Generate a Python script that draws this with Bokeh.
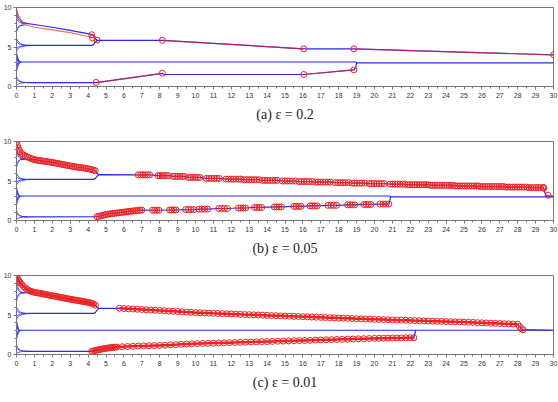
from bokeh.plotting import figure
from bokeh.layouts import column
from bokeh.models import Range1d, FixedTicker
from bokeh.embed import file_html
from bokeh.resources import INLINE

# ---------------- data ----------------
captions = ["(a) \u03b5 = 0.2", "(b) \u03b5 = 0.05", "(c) \u03b5 = 0.01"]
x_ticks = list(range(0, 31))
y_ticks = [0, 5, 10]
y_minor = [1, 2, 3, 4, 6, 7, 8, 9]

# early-time fans (start value at t=0, cluster reached, time reached)
a_fan_start = [9.6, 9.1, 8.6, 7.3, 6.9, 6.1, 5.7, 4.8, 4.5, 4.3, 4.1, 3.9, 3.6, 3.4, 2.7, 2.5, 2.3, 1.9, 1.3, 0.9, 0.15]
a_fan_end_y = [8.0, 8.0, 7.95, 7.8, 7.8, 5.2, 5.2, 5.2, 5.2, 3.1, 3.1, 3.1, 3.1, 3.1, 3.1, 3.1, 3.1, 3.1, 0.5, 0.5, 0.5]
a_fan_end_x = [0.6, 0.5, 0.5, 0.5, 0.4, 0.7, 0.6, 0.7, 0.9, 0.25, 0.15, 0.2, 0.15, 0.1, 0.15, 0.1, 0.2, 0.3, 0.5, 0.6, 0.7]

b_fan_start = [9.2, 8.6, 7.2, 6.7, 6.0, 5.6, 4.8, 4.5, 4.3, 4.0, 3.8, 3.5, 2.8, 2.5, 2.2, 1.9, 1.2, 0.9, 0.1]
b_fan_end_y = [7.75, 7.75, 7.75, 7.75, 5.2, 5.2, 5.2, 5.2, 3.1, 3.1, 3.1, 3.1, 3.1, 3.1, 3.1, 3.1, 0.46, 0.46, 0.46]
b_fan_end_x = [0.4, 0.4, 0.35, 0.3, 0.6, 0.5, 0.6, 0.9, 0.2, 0.15, 0.1, 0.15, 0.1, 0.2, 0.15, 0.3, 0.5, 0.6, 0.6]

c_fan_start = [9.2, 8.6, 7.2, 6.7, 6.0, 5.6, 4.8, 4.5, 4.3, 4.0, 3.8, 3.5, 2.8, 2.5, 2.2, 1.9, 1.2, 0.9, 0.1]
c_fan_end_y = [7.8, 7.8, 7.8, 7.8, 5.2, 5.2, 5.2, 5.2, 3.07, 3.07, 3.07, 3.07, 3.07, 3.07, 3.07, 3.07, 0.4, 0.4, 0.4]
c_fan_end_x = [0.45, 0.4, 0.35, 0.3, 0.6, 0.5, 0.6, 0.9, 0.2, 0.15, 0.1, 0.15, 0.1, 0.2, 0.15, 0.3, 0.5, 0.6, 0.6]

# ---- panel (a) ----
a_blue_xs = [[0.5, 1.0, 2.0, 3.0, 4.2, 4.3, 4.35, 4.5],
             [0.6, 4.2, 4.3, 4.4, 4.5, 8.15, 16.05, 18.85, 30.0],
             [0.2, 18.95, 19.0, 30.0],
             [0.6, 4.45, 8.15, 8.25, 16.05, 18.85, 18.95, 19.0]]
a_blue_ys = [[8.0, 7.85, 7.5, 7.1, 6.6, 6.5, 6.1, 5.85],
             [5.2, 5.2, 5.3, 5.6, 5.85, 5.85, 4.77, 4.77, 4.0],
             [3.1, 3.1, 3.0, 3.0],
             [0.5, 0.5, 1.65, 1.52, 1.52, 2.1, 2.4, 3.0]]
a_red_xs = [[0.0, 0.1, 0.25, 0.4, 0.6, 1.0, 2.0, 3.0, 4.0, 4.25],
            [8.15, 16.05], [18.85, 30.0], [4.45, 8.15], [16.05, 18.85]]
a_red_ys = [[9.9, 9.0, 8.4, 8.0, 7.75, 7.5, 7.17, 6.82, 6.33, 6.15],
            [5.85, 4.77], [4.77, 4.0], [0.5, 1.65], [1.52, 2.1]]
a_circ_x = [4.2, 4.25, 4.5, 8.15, 16.05, 18.85, 30.0, 4.45, 8.15, 16.05, 18.85]
a_circ_y = [6.55, 6.15, 5.88, 5.85, 4.77, 4.77, 4.02, 0.52, 1.68, 1.52, 2.1]

# ---- panel (b) ----
b_top_x = [0.0, 0.05, 0.1, 0.15, 0.2, 0.3, 0.4, 0.5, 0.6, 0.7, 0.8, 0.9, 1.0,
           1.1, 1.2, 1.3, 1.4, 1.5, 1.6, 1.7, 1.8, 1.9, 2.0,
           2.1, 2.2, 2.3, 2.4, 2.5, 2.6, 2.7, 2.8, 2.9, 3.0,
           3.1, 3.2, 3.3, 3.4, 3.5, 3.6, 3.7, 3.8, 3.9, 4.0,
           4.1, 4.2, 4.3, 4.4]
b_top_y = [9.9, 9.5, 9.15, 8.9, 8.7, 8.45, 8.28, 8.15, 8.05, 7.95, 7.86, 7.78, 7.7,
           7.66, 7.62, 7.59, 7.55, 7.52, 7.48, 7.45, 7.42, 7.38, 7.35,
           7.31, 7.26, 7.22, 7.17, 7.13, 7.08, 7.04, 6.99, 6.95, 6.9,
           6.87, 6.83, 6.8, 6.76, 6.73, 6.69, 6.66, 6.62, 6.59, 6.55,
           6.5, 6.44, 6.37, 6.3]
b_low_x = [4.5, 4.6, 4.7, 4.8, 4.9, 5.0, 5.1, 5.2, 5.3, 5.4, 5.5, 5.6, 5.7,
           5.8, 5.9, 6.0, 6.1, 6.2, 6.3, 6.4, 6.5, 6.6, 6.7, 6.8, 6.9, 7.0]
b_low_y = [0.48, 0.53, 0.58, 0.64, 0.7, 0.76, 0.8, 0.83, 0.86, 0.89, 0.92, 0.95, 0.98,
           1.01, 1.04, 1.06, 1.09, 1.12, 1.15, 1.18, 1.2, 1.23, 1.25, 1.28, 1.3, 1.32]
b_up_clump_x = [[6.8, 6.93, 7.06, 7.19, 7.32, 7.44],
                [7.9, 8.02, 8.14, 8.26, 8.38, 8.5],
                [8.75, 8.88, 9.01, 9.14, 9.27, 9.39],
                [9.6, 9.73, 9.86, 9.99, 10.12, 10.25],
                [10.6, 10.75, 10.9, 11.05, 11.2, 11.33],
                [11.7, 11.84, 11.98, 12.12, 12.26, 12.4, 12.53],
                [12.72, 12.86, 13.0, 13.14, 13.28, 13.42, 13.56],
                [13.74, 13.88, 14.02, 14.16, 14.3, 14.44, 14.57],
                [14.85, 14.99, 15.13, 15.27, 15.41, 15.59],
                [15.78, 15.92, 16.06, 16.2, 16.34, 16.52],
                [16.7, 16.84, 16.98, 17.12, 17.26, 17.4, 17.53],
                [17.81, 17.95, 18.09, 18.23, 18.37, 18.56],
                [18.74, 18.88, 19.02, 19.16, 19.3, 19.48],
                [19.7, 19.84, 19.98, 20.12, 20.26, 20.4, 20.55],
                [20.87, 21.01, 21.15, 21.29, 21.43, 21.57, 21.7],
                [21.85, 21.98, 22.11, 22.24, 22.37, 22.5, 22.63, 22.76, 22.89, 23.0],
                [23.12, 23.25, 23.38, 23.51, 23.64, 23.77, 23.9, 24.03, 24.16, 24.29, 24.4],
                [24.52, 24.65, 24.78, 24.91, 25.04, 25.17, 25.3, 25.43, 25.56, 25.69, 25.8],
                [25.92, 26.05, 26.18, 26.31, 26.44, 26.57, 26.7, 26.83, 26.96, 27.09, 27.2],
                [27.32, 27.45, 27.58, 27.71, 27.84, 27.97, 28.1, 28.23, 28.36, 28.5],
                [28.62, 28.75, 28.88, 29.01, 29.14, 29.27, 29.4, 29.45]]
b_up_clump_y = [5.78, 5.68, 5.58, 5.45, 5.33, 5.24, 5.16, 5.08, 5.0, 4.93, 4.86,
                4.79, 4.73, 4.67, 4.6, 4.53, 4.45, 4.37, 4.3, 4.23, 4.16]
b_low_clump_x = [[7.6, 7.72, 7.84, 7.96], [8.55, 8.67, 8.79, 8.91], [9.45, 9.6, 9.75, 9.9],
                 [10.2, 10.36, 10.52, 10.68], [11.3, 11.46, 11.62, 11.78], [12.4, 12.53, 12.66, 12.8],
                 [13.3, 13.43, 13.56, 13.7], [14.4, 14.53, 14.66, 14.8], [15.5, 15.63, 15.76, 15.9],
                 [16.4, 16.53, 16.66, 16.8], [17.4, 17.56, 17.72, 17.88], [18.5, 18.63, 18.76, 18.9],
                 [19.4, 19.53, 19.66, 19.8], [20.3, 20.47, 20.64, 20.8]]
b_low_clump_y = [1.3, 1.33, 1.38, 1.44, 1.52, 1.58, 1.65, 1.72, 1.79, 1.85, 1.92, 1.98, 2.03, 2.08]
b_extra_circ_x = [29.45, 29.7]
b_extra_circ_y = [4.1, 3.2]

# ---- panel (c) ----
c_top_x = b_top_x
c_top_y = [9.9, 9.6, 9.4, 9.25, 9.1, 8.85, 8.6, 8.4, 8.25, 8.1, 8.0, 7.93, 7.87,
           7.83, 7.79, 7.74, 7.7, 7.66, 7.61, 7.57, 7.53, 7.48, 7.44,
           7.4, 7.35, 7.31, 7.26, 7.22, 7.18, 7.13, 7.09, 7.04, 7.0,
           6.96, 6.92, 6.88, 6.84, 6.8, 6.76, 6.72, 6.68, 6.64, 6.6,
           6.55, 6.48, 6.38, 6.25]
c_up_x = [5.75, 6.0, 6.25, 6.5, 6.75, 7.0, 7.25, 7.5, 7.75, 8.0, 8.25, 8.5, 8.75, 9.0, 9.25, 9.5, 9.75, 10.0,
          10.25, 10.5, 10.75, 11.0, 11.25, 11.5, 11.75, 12.0, 12.25, 12.5, 12.75, 13.0, 13.25, 13.5, 13.75, 14.0, 14.25, 14.5, 14.75, 15.0,
          15.25, 15.5, 15.75, 16.0, 16.25, 16.5, 16.75, 17.0, 17.25, 17.5, 17.75, 18.0, 18.25, 18.5, 18.75, 19.0, 19.25, 19.5, 19.75, 20.0,
          20.25, 20.5, 20.75, 21.0, 21.25, 21.5, 21.75, 22.0, 22.25, 22.5, 22.75, 23.0, 23.25, 23.5, 23.75, 24.0, 24.25, 24.5, 24.75, 25.0,
          25.25, 25.5, 25.75, 26.0, 26.25, 26.5, 26.75, 27.0, 27.25, 27.5, 27.75, 28.0]
c_up_y = [5.85, 5.82, 5.79, 5.76, 5.73, 5.70, 5.67, 5.63, 5.6, 5.57, 5.54, 5.5, 5.47, 5.44, 5.41, 5.37, 5.34, 5.3,
          5.28, 5.26, 5.24, 5.21, 5.19, 5.17, 5.15, 5.13, 5.11, 5.08, 5.06, 5.04, 5.02, 5.0, 4.98, 4.95, 4.93, 4.91, 4.89, 4.87,
          4.85, 4.83, 4.81, 4.79, 4.77, 4.74, 4.72, 4.7, 4.68, 4.66, 4.64, 4.62, 4.6, 4.58, 4.56, 4.53, 4.51, 4.49, 4.47, 4.45,
          4.43, 4.42, 4.4, 4.38, 4.36, 4.35, 4.33, 4.31, 4.29, 4.28, 4.26, 4.24, 4.22, 4.21, 4.19, 4.17, 4.15, 4.14, 4.12, 4.1,
          4.08, 4.06, 4.03, 4.01, 3.99, 3.96, 3.94, 3.92, 3.9, 3.87, 3.85, 3.83]
c_drop_x = [28.1, 28.2, 28.3]
c_drop_y = [3.55, 3.25, 3.15]
c_low_x = [4.2, 4.3, 4.4, 4.5, 4.6, 4.7, 4.8, 4.9, 5.0, 5.1, 5.2, 5.3, 5.4, 5.5, 5.6,
           5.9, 6.2, 6.5, 6.8, 7.1, 7.4, 7.7, 8.0, 8.3, 8.6, 8.9, 9.2, 9.5, 9.8, 10.1,
           10.4, 10.7, 11.0, 11.3, 11.6, 11.9, 12.2, 12.5, 12.8, 13.1, 13.4, 13.7, 14.0, 14.3, 14.6, 14.9,
           15.2, 15.5, 15.8, 16.1, 16.4, 16.7, 17.0, 17.3, 17.6, 17.9, 18.2, 18.5, 18.8, 19.1, 19.4, 19.7, 20.0,
           20.25, 20.5, 20.75, 21.0, 21.25, 21.5, 21.75, 22.0, 22.2]
c_low_y = [0.4, 0.45, 0.5, 0.55, 0.6, 0.65, 0.7, 0.74, 0.78, 0.82, 0.85, 0.88, 0.9, 0.92, 0.94,
           0.98, 1.01, 1.04, 1.07, 1.09, 1.11, 1.13, 1.15, 1.18, 1.21, 1.25, 1.29, 1.32, 1.35, 1.38,
           1.40, 1.42, 1.44, 1.46, 1.48, 1.50, 1.52, 1.54, 1.56, 1.58, 1.60, 1.62, 1.64, 1.66, 1.68, 1.70,
           1.72, 1.74, 1.76, 1.78, 1.80, 1.82, 1.84, 1.86, 1.88, 1.9, 1.92, 1.94, 1.96, 1.98, 2.0, 2.02, 2.04,
           2.05, 2.06, 2.07, 2.08, 2.09, 2.10, 2.11, 2.12, 2.12]

# ---------------- styling ----------------
BLUE = "#2a2ae6"
RED = "#ee2222"
AXIS_C = "#777777"
LABEL_FONT = "Liberation Sans"
CIRC_SIZE = 6


def base_figure(caption):
    p = figure(width=558, height=134, x_range=Range1d(0, 30), y_range=Range1d(0, 10),
               output_backend="svg", toolbar_location=None,
               min_border_left=13, min_border_right=5, min_border_top=7, min_border_bottom=48,
               title=caption, title_location="below")
    p.title.align = "center"
    p.title.text_font = "Liberation Serif"
    p.title.text_font_style = "normal"
    p.title.text_font_size = "14px"
    p.title.text_color = "#222222"
    p.title.standoff = 8
    p.xgrid.visible = False
    p.ygrid.visible = False
    p.outline_line_color = AXIS_C
    p.background_fill_color = "white"
    p.border_fill_color = "white"
    p.xaxis.ticker = FixedTicker(ticks=x_ticks, minor_ticks=[t + 0.5 for t in x_ticks[:-1]])
    p.yaxis.ticker = FixedTicker(ticks=y_ticks, minor_ticks=y_minor)
    for ax in (p.xaxis, p.yaxis):
        ax.axis_line_color = AXIS_C
        ax.major_tick_line_color = AXIS_C
        ax.minor_tick_line_color = AXIS_C
        ax.major_tick_in = 0
        ax.major_tick_out = 3
        ax.minor_tick_in = 0
        ax.minor_tick_out = 2
        ax.major_label_text_font = LABEL_FONT
        ax.major_label_text_font_size = "7px"
        ax.major_label_text_color = "#333333"
        ax.major_label_standoff = 3
    p.yaxis.major_label_standoff = 2
    return p


def draw_fans(p, starts, ends_y, ends_x):
    p.quadratic(x0=[0.0] * len(starts), y0=starts, x1=ends_x, y1=ends_y,
                cx=[0.1] * len(starts), cy=ends_y, line_color=BLUE, line_width=1, line_alpha=0.75)


def circles(p, xs, ys):
    p.scatter(xs, ys, marker="circle", size=CIRC_SIZE, line_color=RED, line_width=1,
              fill_color="white", fill_alpha=0.0)


# ---- panel a ----
pa = base_figure(captions[0])
draw_fans(pa, a_fan_start, a_fan_end_y, a_fan_end_x)
pa.multi_line(a_blue_xs, a_blue_ys, line_color=BLUE, line_width=1.2)
pa.multi_line(a_red_xs, a_red_ys, line_color=RED, line_width=1.2, line_alpha=0.65)
circles(pa, a_circ_x, a_circ_y)

# ---- panel b ----
pb = base_figure(captions[1])
draw_fans(pb, b_fan_start, b_fan_end_y, b_fan_end_x)
mid_x = [0.6, 4.3, 4.4, 4.5, 4.6]
mid_y = [5.2, 5.2, 5.3, 5.6, 5.8]
for cx_, cy_ in zip(b_up_clump_x, b_up_clump_y):
    mid_x += [cx_[0], cx_[-1]]
    mid_y += [cy_, cy_]
mid_x += [29.5, 29.6, 30.0]
mid_y += [3.6, 3.15, 3.05]
low_x = [0.5] + b_low_x
low_y = [0.46] + b_low_y
for cx_, cy_ in zip(b_low_clump_x, b_low_clump_y):
    low_x += [cx_[0], cx_[-1]]
    low_y += [cy_, cy_]
low_x += [20.85, 20.9]
low_y += [2.5, 3.0]
pb.multi_line([[0.3, 1.0, 2.0, 3.0, 4.0, 4.4, 4.5, 4.6], mid_x, [0.2, 20.85, 20.9, 30.0], low_x],
              [[7.75, 7.7, 7.35, 6.9, 6.55, 6.3, 6.0, 5.8], mid_y, [3.1, 3.1, 3.0, 3.0], low_y],
              line_color=BLUE, line_width=1.2)
pb.line(b_top_x, b_top_y, line_color=RED, line_width=1)
pb.line(b_low_x, b_low_y, line_color=RED, line_width=1)
circles(pb, b_top_x, b_top_y)
circles(pb, b_low_x, b_low_y)
for cx_, cy_ in zip(b_up_clump_x, b_up_clump_y):
    pb.line(cx_, [cy_] * len(cx_), line_color=RED, line_width=1)
    circles(pb, cx_, [cy_] * len(cx_))
for cx_, cy_ in zip(b_low_clump_x, b_low_clump_y):
    pb.line(cx_, [cy_] * len(cx_), line_color=RED, line_width=1)
    circles(pb, cx_, [cy_] * len(cx_))
circles(pb, b_extra_circ_x, b_extra_circ_y)

# ---- panel c ----
pc = base_figure(captions[2])
draw_fans(pc, c_fan_start, c_fan_end_y, c_fan_end_x)
pc.multi_line([[0.3, 1.0, 4.4, 4.5, 4.6],
               [0.6, 4.3, 4.4, 4.5, 4.6, 5.75] + c_up_x + c_drop_x + [30.0],
               [0.2, 30.0],
               [0.5] + c_low_x + [22.3]],
              [[7.8, 7.87, 6.25, 6.0, 5.85],
               [5.2, 5.2, 5.3, 5.6, 5.85, 5.85] + c_up_y + c_drop_y + [3.07],
               [3.07, 3.07],
               [0.4] + c_low_y + [3.07]],
              line_color=BLUE, line_width=1.2)
for xs_, ys_ in ((c_top_x, c_top_y), (c_up_x, c_up_y), (c_low_x, c_low_y)):
    pc.line(xs_, ys_, line_color=RED, line_width=2.5)
    circles(pc, xs_, ys_)
circles(pc, c_drop_x, c_drop_y)

layout = column(pa, pb, pc, spacing=0)
open("out.html", "w").write(file_html(layout, INLINE))
